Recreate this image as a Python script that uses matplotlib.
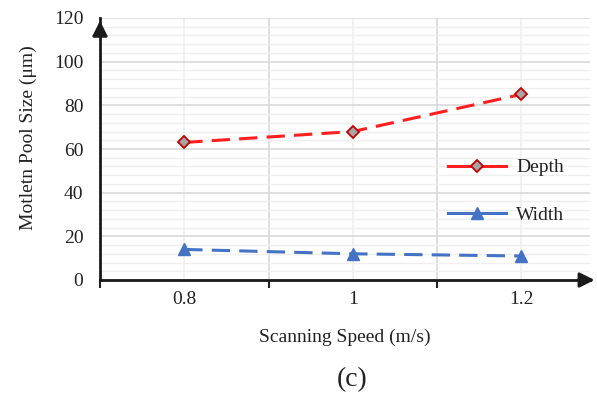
import matplotlib
matplotlib.use("Agg")
import matplotlib.pyplot as plt
from matplotlib.ticker import MultipleLocator, FixedLocator

speeds = ["0.8", "1", "1.2"]
depth = [63, 68, 85]
width = [14, 12, 11]

plt.rcParams['font.family'] = ['Liberation Serif', 'DejaVu Serif']

fig = plt.figure(figsize=(5.97, 3.95), dpi=100)
ax = fig.add_axes([100/597, 1-280/395, 490/597, (280-18)/395])
x = list(range(len(speeds)))

ax.set_xlim(-0.5, -0.5 + 490/168.5)
ax.set_ylim(0, 120)

ax.yaxis.set_major_locator(MultipleLocator(20))
ax.yaxis.set_minor_locator(MultipleLocator(4))
ax.grid(axis='y', which='major', color='#d9d9d9', lw=1.2)
ax.grid(axis='y', which='minor', color='#efefef', lw=1.0)
for xi in x:
    ax.axvline(xi, color='#efefef', lw=1.2, zorder=0)
for b in [0.5, 1.5]:
    ax.axvline(b, color='#d9d9d9', lw=1.2, zorder=0)
ax.set_axisbelow(True)

ax.plot(x, depth, color='#ff1f1f', lw=2.2, dashes=(6, 3), marker='D', ms=6,
        mfc='#a6a6a6', mec='#c00000', mew=1.3, label='Depth', zorder=3)
ax.plot(x, width, color='#4472c4', lw=2.2, dashes=(6, 3), marker='^', ms=9,
        mfc='#4472c4', mec='#4472c4', label='Width', zorder=3)

fs = 14
ax.set_xticks(x)
ax.set_xticklabels(speeds)
ax.xaxis.set_minor_locator(FixedLocator([-0.5, 0.5, 1.5, 2.5]))
ax.tick_params(axis='x', which='major', length=0, pad=8, labelsize=fs, colors='#222222')
ax.tick_params(axis='x', which='minor', length=6, width=1.5, direction='out', color='#222222')
ax.tick_params(axis='y', which='both', length=0, pad=12, labelsize=fs, colors='#222222')

for s in ['top', 'right']:
    ax.spines[s].set_visible(False)
for s in ['left', 'bottom']:
    ax.spines[s].set_linewidth(2)
    ax.spines[s].set_color('#1a1a1a')

ax.annotate('', xy=(0, 1.0), xytext=(0, 0.93), xycoords='axes fraction',
            arrowprops=dict(arrowstyle='-|>,head_length=0.9,head_width=0.45', color='#1a1a1a', lw=2),
            annotation_clip=False)
ax.annotate('', xy=(1.015, 0), xytext=(0.97, 0), xycoords='axes fraction',
            arrowprops=dict(arrowstyle='-|>,head_length=0.9,head_width=0.45', color='#1a1a1a', lw=2),
            annotation_clip=False)

ax.set_ylabel('Motletn Pool Size (μm)', fontsize=fs, color='#222222')
ax.yaxis.set_label_coords(-0.129, 0.545)
ax.set_xlabel('Scanning Speed (m/s)', fontsize=fs, color='#222222', labelpad=15)

leg = ax.legend(loc='upper left', bbox_to_anchor=(0.691, 0.5), frameon=False,
                fontsize=fs, labelspacing=1.55, handlelength=2.95, handletextpad=0.55,
                borderpad=0)
for ln in leg.get_lines():
    ln.set_linestyle('-')
for t in leg.get_texts():
    t.set_color('#222222')

fig.text(352/597, 1-380/395, '(c)', ha='center', va='center', fontsize=20, color='#222222')

fig.savefig('out.png', dpi=100)
